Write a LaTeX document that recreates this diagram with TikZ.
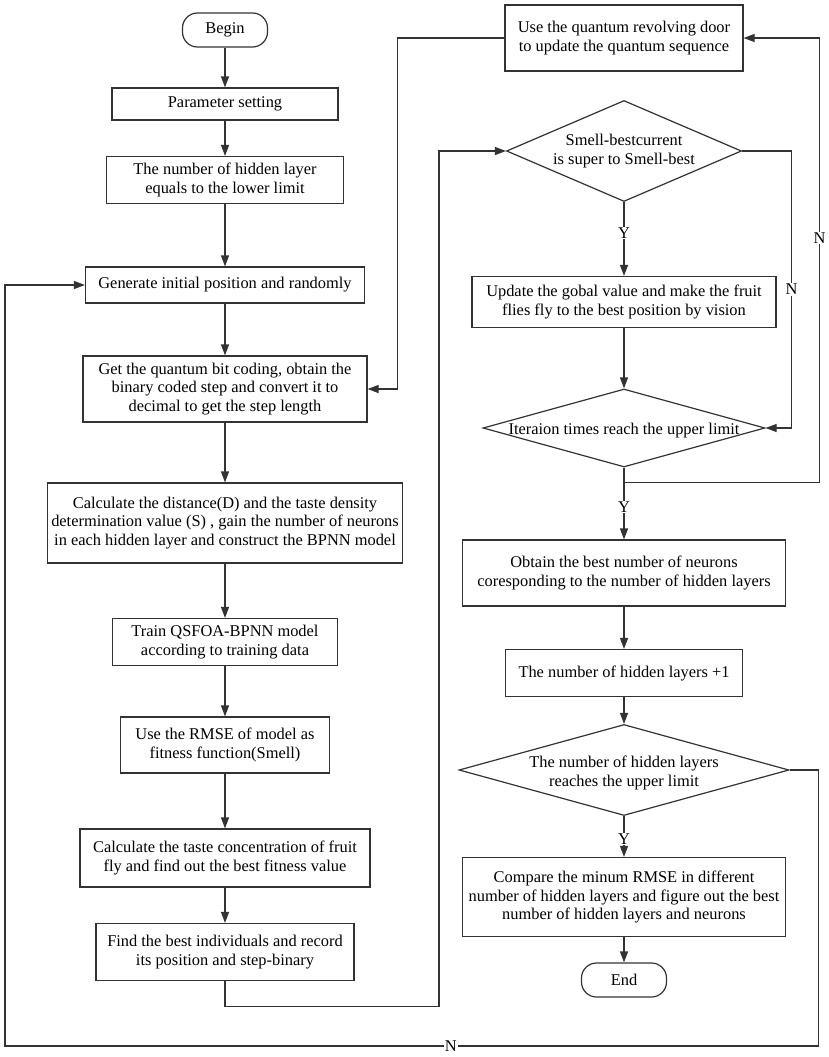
\documentclass[tikz,border=0pt]{standalone}
\usepackage{fontspec}
\setmainfont{Liberation Serif}
\usetikzlibrary{positioning,shapes.geometric,arrows.meta}

\begin{document}
\begin{tikzpicture}[
  >={Triangle[length=11pt,width=8pt]},
  line width=1.2pt,
  draw=black!80,
  font=\fontsize{16.4pt}{18.5pt}\selectfont,
  on grid,
  term/.style={draw, rounded corners=15pt, minimum width=85pt, minimum height=34pt, inner sep=0pt},
  proc/.style={draw, align=center, inner sep=0pt},
  decide/.style={draw, diamond, inner sep=0pt},
  lbl/.style={fill=white, inner sep=1pt}
]
  \useasboundingbox (0pt,0pt) rectangle (829pt,-1057pt);

  % Left column: set up the fruit flies and evaluate them.
  \node[term] (begin) at (225pt,-30pt) {Begin};
  \node[proc, minimum width=226pt, minimum height=32pt, below=74pt of begin] (param) {Parameter setting};
  \node[proc, minimum width=237pt, minimum height=47pt, below=76pt of param] (lower) {The number of  hidden layer\\equals to the  lower limit};
  \node[proc, minimum width=279pt, minimum height=36pt, below=105pt of lower] (gen) {Generate initial position and randomly};
  \node[proc, minimum width=284pt, minimum height=66pt, below=104pt of gen] (qbit) {Get the quantum bit coding, obtain the\\binary coded step and convert it to\\decimal to get the step length};
  \node[proc, minimum width=355pt, minimum height=80pt, below=134pt of qbit] (dist) {Calculate the distance(D) and the taste density\\determination value (S) , gain the number of neurons\\in each hidden layer and construct the BPNN model};
  \node[proc, minimum width=225pt, minimum height=47pt, below=119pt of dist] (train) {Train QSFOA-BPNN model\\according to training data};
  \node[proc, minimum width=209pt, minimum height=56pt, below=103pt of train] (rmse) {Use the RMSE of model as\\fitness function(Smell)};
  \node[proc, minimum width=290pt, minimum height=58pt, below=113pt of rmse] (taste) {Calculate the taste concentration of fruit\\fly and find out the best  fitness value};
  \node[proc, minimum width=258pt, minimum height=57pt, below=94pt of taste] (indiv) {Find the best individuals and record\\its position and step-binary};

  % Right column: update, iterate and pick the best layer count.
  \node[proc, minimum width=238pt, minimum height=66pt] (door) at (624pt,-38pt) {Use the quantum revolving door\\to update the quantum sequence};
  \node[decide, minimum width=235pt, minimum height=101pt, below=113pt of door] (smell) {};
  \node[align=center] (smelltxt) at (smell) {Smell-bestcurrent\\is super to Smell-best};
  \node[proc, minimum width=304pt, minimum height=51pt, below=151pt of smell] (update) {Update the gobal value and make the fruit\\flies fly to the best position by vision};
  \node[decide, minimum width=282pt, minimum height=78pt, below=126pt of update] (iter) {};
  \node (itertxt) at ([yshift=-3pt]iter) {Iteraion times reach the upper limit};
  \node[proc, minimum width=323pt, minimum height=66pt, below=145pt of iter] (obtain) {Obtain the best number of neurons\\coresponding to the number of hidden layers};
  \node[proc, minimum width=237pt, minimum height=47pt, below=100pt of obtain] (plus) {The number of hidden layers +1};
  \node[decide, minimum width=330pt, minimum height=91pt, below=97pt of plus] (layers) {};
  \node[align=center] (layerstxt) at ([yshift=-3pt]layers) {The number of hidden layers\\reaches the upper limit};
  \node[proc, minimum width=323pt, minimum height=79pt, below=127pt of layers] (compare) {Compare the minum RMSE  in different\\number of hidden layers and figure out the best\\number of hidden layers and neurons};
  \node[term, below=83pt of compare] (end) {End};

  \path[->]
    (begin) edge (param)
    (param) edge (lower)
    (lower) edge (gen)
    (gen) edge (qbit)
    (qbit) edge (dist)
    (dist) edge (train)
    (train) edge (rmse)
    (rmse) edge (taste)
    (taste) edge (indiv)
    (smell) edge node[lbl, pos=0.42] {Y} (update)
    (update) edge (iter)
    (iter) edge node[lbl, pos=0.55] {Y} (obtain)
    (obtain) edge (plus)
    (plus) edge (layers)
    (layers) edge node[lbl, pos=0.56] {Y} (compare)
    (compare) edge (end);

  % Loops back
  \draw[->] (indiv.south) -- ++(0,-25.5pt) -| ([xshift=-67pt]smell.west) -- (smell.west);
  \draw[->] (door.west) -| ([xshift=30pt]qbit.east) -- (qbit.east);
  \draw[->] (smell.east) -| node[lbl, pos=0.75] {N} ([xshift=26pt]iter.east) -- (iter.east);
  \draw[->] (iter.south) -- ++(0,-15pt) -| node[lbl, pos=0.775] {N} ([xshift=76pt]door.east) -- (door.east);
  \draw[->] (layers.east) -- ++(29pt,0) -- ++(0,-276pt) -| node[lbl, pos=0.226] {N} ([xshift=-80pt]gen.west) -- (gen.west);
\end{tikzpicture}
\end{document}
